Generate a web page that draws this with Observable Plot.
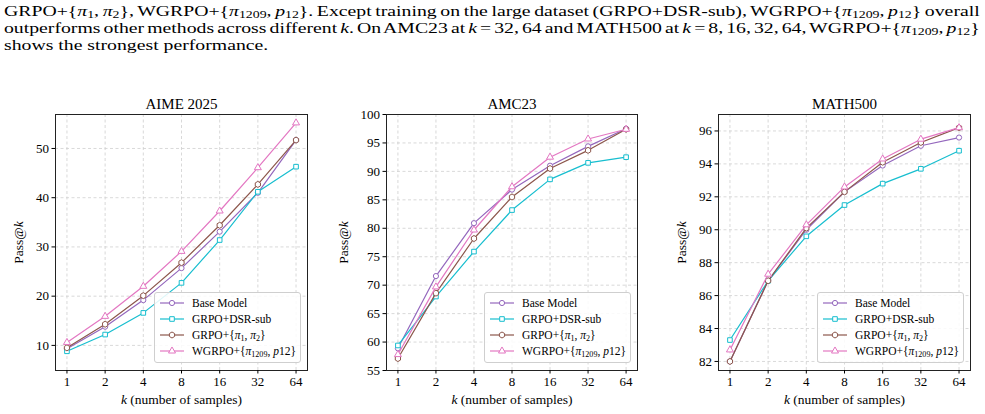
<!DOCTYPE html>
<html>
<head>
<meta charset="utf-8">
<script src="https://cdn.jsdelivr.net/npm/d3@7"></script>
<script src="https://cdn.jsdelivr.net/npm/@observablehq/plot@0.6"></script>
<style>
  html, body { margin: 0; padding: 0; background: #fff; }
  #page { position: relative; width: 985px; height: 414px; overflow: hidden; font-family: "Liberation Serif", "DejaVu Serif", serif; color: #000; }
  #para { position: absolute; left: 4px; top: 3px; width: 692px; font-size: 14px; line-height: 17px; transform: scaleX(1.41); transform-origin: 0 0; }
  #para div { white-space: nowrap; }
  #para .just { text-align: justify; text-align-last: justify; word-spacing: -1.7px; }
  #para i { font-style: italic; }
  #para sub, .legend sub { font-size: 0.7em; vertical-align: -0.25em; line-height: 0; }
  .panel { position: absolute; top: 85px; }
  .legend { position: absolute; box-sizing: border-box; border: 1px solid #cfcfcf; border-radius: 3px; background: rgba(255,255,255,0.85); padding: 2px 6px 4px 5px; font-size: 11.5px; }
  .legend .row { display: flex; align-items: center; height: 16px; white-space: nowrap; }
  .legend svg { margin-right: 8px; flex: none; }
</style>
</head>
<body>
<div id="page">
  <div id="para">
    <div class="just">GRPO+{<i>π</i><sub>1</sub>, <i>π</i><sub>2</sub>}, WGRPO+{<i>π</i><sub>1209</sub>, <i>p</i><sub>12</sub>}. Except training on the large dataset (GRPO+DSR-sub), WGRPO+{<i>π</i><sub>1209</sub>, <i>p</i><sub>12</sub>} overall</div>
    <div class="just">outperforms other methods across different <i>k</i>. On AMC23 at <i>k</i> = 32, 64 and MATH500 at <i>k</i> = 8, 16, 32, 64, WGRPO+{<i>π</i><sub>1209</sub>, <i>p</i><sub>12</sub>}</div>
    <div>shows the strongest performance.</div>
  </div>
</div>
<script>
const serif = '"Liberation Serif", "DejaVu Serif", serif';

// Number of samples k
const kValues = [1, 2, 4, 8, 16, 32, 64];

// Methods, colors and markers
const seriesKeys = ["base", "dsr", "grpo", "wgrpo"];
const seriesLabels = [
  "Base Model",
  "GRPO+DSR-sub",
  "GRPO+{<i>π</i><sub>1</sub>, <i>π</i><sub>2</sub>}",
  "WGRPO+{<i>π</i><sub>1209</sub>, <i>p</i>12}"
];
const seriesColors = ["#9467bd", "#17becf", "#8c564b", "#e377c2"];
const seriesSymbols = ["circle", "square", "hexagon", "triangle"];

// AIME 2025 pass@k
const aimeBase  = [9.3, 13.8, 19.2, 25.7, 33.1, 41.0, 51.7];
const aimeDsr   = [8.8, 12.2, 16.6, 22.7, 31.4, 41.2, 46.3];
const aimeGrpo  = [9.5, 14.3, 20.1, 26.8, 34.4, 42.7, 51.7];
const aimeWgrpo = [10.6, 15.9, 22.0, 29.1, 37.3, 46.1, 55.2];
const aimeTicks = [10, 20, 30, 40, 50];

// AMC23 pass@k
const amcBase  = [58.9, 71.6, 80.9, 86.8, 91.0, 94.4, 97.5];
const amcDsr   = [59.4, 68.0, 75.9, 83.2, 88.6, 91.5, 92.5];
const amcGrpo  = [57.1, 68.6, 78.2, 85.5, 90.5, 93.7, 97.4];
const amcWgrpo = [57.8, 69.7, 79.7, 87.3, 92.5, 95.7, 97.4];
const amcTicks = [55, 60, 65, 70, 75, 80, 85, 90, 95, 100];

// MATH500 pass@k
const mathBase  = [82.0, 86.9, 90.0, 92.3, 93.9, 95.1, 95.6];
const mathDsr   = [83.3, 86.9, 89.6, 91.5, 92.8, 93.7, 94.8];
const mathGrpo  = [82.0, 86.9, 90.1, 92.3, 94.1, 95.3, 96.2];
const mathWgrpo = [82.7, 87.3, 90.3, 92.6, 94.3, 95.5, 96.2];
const mathTicks = [82, 84, 86, 88, 90, 92, 94, 96];

// Pointy-top hexagon, same geometry as Plot's "hexagon" symbol
const hexagon = {
  draw(context, size) {
    const rx = Math.sqrt(size / Math.PI), ry = rx * 2 / Math.sqrt(3), hy = ry / 2;
    context.moveTo(0, ry); context.lineTo(rx, hy); context.lineTo(rx, -hy);
    context.lineTo(0, -ry); context.lineTo(-rx, -hy); context.lineTo(-rx, hy);
    context.closePath();
  }
};
const legendSymbols = [d3.symbolCircle, d3.symbolSquare, hexagon, d3.symbolTriangle];
const markerR = 2.6;

const page = document.getElementById("page");
const svgNS = "http://www.w3.org/2000/svg";

function tspan(text, italic) {
  const t = document.createElementNS(svgNS, "tspan");
  if (italic) t.setAttribute("font-style", "italic");
  t.textContent = text;
  return t;
}

function drawPanel({title, series, yDomain, yTicks, left, marginLeft, marginRight, yLabelOffset}) {
  const rows = series.flatMap((vals, s) => vals.map((v, i) => ({series: seriesKeys[s], s, k: kValues[i], v})));
  const marks = [
    Plot.gridX(kValues, {stroke: "#cfcfcf", strokeOpacity: 1, strokeDasharray: "3,2.5", strokeWidth: 0.8}),
    Plot.gridY(yTicks, {stroke: "#cfcfcf", strokeOpacity: 1, strokeDasharray: "3,2.5", strokeWidth: 0.8})
  ];
  seriesKeys.forEach((key, s) => {
    const d = rows.filter(r => r.s === s);
    marks.push(Plot.line(d, {x: "k", y: "v", stroke: seriesColors[s], strokeWidth: 1.2}));
    marks.push(Plot.dot(d, {x: "k", y: "v", stroke: seriesColors[s], fill: "white", symbol: seriesSymbols[s], r: markerR, strokeWidth: 1}));
  });
  marks.push(
    Plot.frame({stroke: "#222", strokeWidth: 1}),
    Plot.axisX({ticks: kValues, tickFormat: d => String(d), tickSize: 3.5, tickPadding: 3, fontSize: 13,
      label: "k (number of samples)", labelAnchor: "center", labelArrow: "none", labelOffset: 33}),
    Plot.axisY({ticks: yTicks, tickSize: 3.5, tickPadding: 3, fontSize: 13,
      label: "Pass@k", labelAnchor: "center", labelArrow: "none", labelOffset: yLabelOffset}),
    Plot.text([title], {frameAnchor: "top", lineAnchor: "bottom", dy: -6, fontSize: 15, text: d => d})
  );
  const chart = Plot.plot({
    width: 330, height: 329,
    marginTop: 29, marginBottom: 44, marginLeft, marginRight,
    style: {fontFamily: serif, fontSize: "13px", color: "#000", background: "transparent", overflow: "visible"},
    x: {type: "log", base: 2, domain: [Math.pow(2, -0.3), Math.pow(2, 6.3)]},
    y: {domain: yDomain},
    marks
  });
  // italic k in the axis labels
  chart.querySelectorAll('[aria-label="x-axis label"] text').forEach(t => {
    t.textContent = "";
    t.append(tspan("k", true), tspan(" (number of samples)", false));
    t.setAttribute("font-size", "13.5");
    t.setAttribute("font-family", serif);
    t.setAttribute("font-weight", "normal");
  });
  chart.querySelectorAll('[aria-label="y-axis label"] text').forEach(t => {
    t.textContent = "";
    t.append(tspan("Pass@", false), tspan("k", true));
    t.setAttribute("font-size", "13.5");
    t.setAttribute("font-family", serif);
    t.setAttribute("font-weight", "normal");
  });
  const wrap = document.createElement("div");
  wrap.className = "panel";
  wrap.style.left = left + "px";
  wrap.appendChild(chart);
  page.appendChild(wrap);

  // legend in the lower right corner of the frame
  const legend = document.createElement("div");
  legend.className = "legend";
  legend.style.left = (left + 330 - marginRight - 153) + "px";
  legend.style.top = (85 + 285 - 78) + "px";
  legend.style.width = "147px";
  legend.style.height = "71px";
  seriesLabels.forEach((lab, s) => {
    const row = document.createElement("div");
    row.className = "row";
    const sw = d3.create("svg").attr("width", 24).attr("height", 10);
    sw.append("line").attr("x1", 0).attr("x2", 24).attr("y1", 5).attr("y2", 5)
      .attr("stroke", seriesColors[s]).attr("stroke-width", 1.2);
    sw.append("path").attr("d", d3.symbol(legendSymbols[s], Math.PI * markerR * markerR)())
      .attr("transform", "translate(12,5)").attr("fill", "white").attr("stroke", seriesColors[s]).attr("stroke-width", 1);
    row.appendChild(sw.node());
    const span = document.createElement("span");
    span.innerHTML = lab;
    row.appendChild(span);
    legend.appendChild(row);
  });
  page.appendChild(legend);
}

drawPanel({title: "AIME 2025", series: [aimeBase, aimeDsr, aimeGrpo, aimeWgrpo], yDomain: [4.9, 56.9], yTicks: aimeTicks,
  left: 0, marginLeft: 55, marginRight: 23, yLabelOffset: 42});
drawPanel({title: "AMC23", series: [amcBase, amcDsr, amcGrpo, amcWgrpo], yDomain: [55, 100], yTicks: amcTicks,
  left: 330, marginLeft: 56, marginRight: 23, yLabelOffset: 48});
drawPanel({title: "MATH500", series: [mathBase, mathDsr, mathGrpo, mathWgrpo], yDomain: [81.45, 97.0], yTicks: mathTicks,
  left: 655, marginLeft: 63, marginRight: 15, yLabelOffset: 42});
</script>
</body>
</html>
